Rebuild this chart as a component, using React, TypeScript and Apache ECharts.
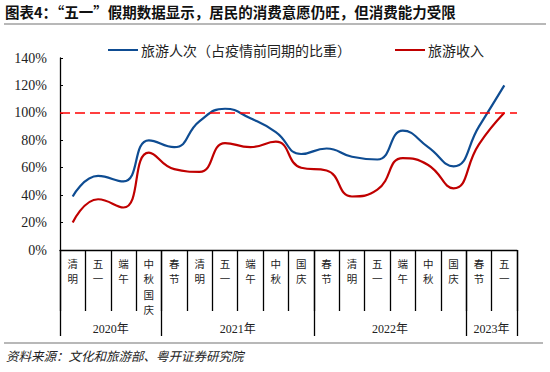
import React, { useEffect, useRef } from "react";
import * as echarts from "echarts";

const categories = [
  "清明", "五一", "端午", "中秋国庆",
  "春节", "清明", "五一", "端午", "中秋", "国庆",
  "春节", "清明", "五一", "端午", "中秋", "国庆",
  "春节", "五一",
];
const yearLabels = ["2020年", "2021年", "2022年", "2023年"];
const yearStarts = [0, 4, 10, 16];
const yearCounts = [4, 6, 6, 2];

const touristShare = [39, 54, 50, 80, 75, 94, 103, 96, 86, 70, 74, 68, 66, 87, 75, 61, 90, 120];
const revenueShare = [20, 37, 31, 71, 59, 57, 78, 75, 79, 60, 58, 39, 44, 67, 62, 45, 77, 100];
const referenceLevel = 100;

const seriesNames = ["旅游人次（占疫情前同期的比重）", "旅游收入"];
const titleText = "图表4：“五一”假期数据显示，居民的消费意愿仍旺，但消费能力受限";
const sourceText = "资料来源：文化和旅游部、粤开证券研究院";

const SERIF = '"Liberation Serif", "Noto Sans CJK SC", serif';
const CJK = '"Noto Sans CJK SC", "Liberation Serif", sans-serif';

export default function App() {
  const ref = useRef<HTMLDivElement>(null);
  useEffect(() => {
    document.body.style.margin = "0";
    if (!ref.current) return;
    const chart = echarts.init(ref.current, null, { renderer: "svg" });

    const yearCenterMap: Record<number, string> = {};
    yearStarts.forEach((s, i) => {
      yearCenterMap[s + yearCounts[i] / 2] = yearLabels[i];
    });

    const option: any = {
      animation: false,
      backgroundColor: "#fff",
      grid: { left: 60, right: 33, top: 58, bottom: 122 },
      legend: {
        left: 103,
        top: 38,
        itemWidth: 30,
        itemHeight: 2,
        itemGap: 44,
        icon: "rect",
        textStyle: { fontFamily: CJK, fontSize: 14, color: "#222", padding: [0, 0, 0, -2] },
        data: seriesNames,
      },
      xAxis: [
        {
          type: "category",
          data: categories,
          boundaryGap: true,
          axisLine: { show: true, lineStyle: { color: "#000", width: 1.3 } },
          axisTick: { show: true, interval: 0, length: 61, lineStyle: { color: "#000", width: 1.3 } },
          axisLabel: {
            interval: 0,
            margin: 6,
            fontFamily: CJK,
            fontSize: 10.5,
            lineHeight: 15.3,
            color: "#222",
            formatter: (v: string) => v.split("").join("\n"),
          },
          splitLine: { show: false },
        },
        {
          type: "category",
          data: categories,
          boundaryGap: true,
          position: "bottom",
          axisLine: { show: false },
          axisTick: {
            show: true,
            interval: (i: number) => yearStarts.includes(i),
            length: 86,
            lineStyle: { color: "#000", width: 1.3 },
          },
          axisLabel: { show: false },
          splitLine: { show: false },
        },
        {
          type: "value",
          min: 0,
          max: categories.length,
          interval: 1,
          position: "bottom",
          axisLine: { show: false },
          axisTick: { show: false },
          splitLine: { show: false },
          axisLabel: {
            margin: 73,
            fontFamily: SERIF,
            fontSize: 12,
            color: "#222",
            showMinLabel: true,
            showMaxLabel: true,
            formatter: (v: number) => yearCenterMap[v] || "",
          },
        },
      ],
      yAxis: {
        type: "value",
        min: 0,
        max: 140,
        interval: 20,
        axisLine: { show: true, lineStyle: { color: "#000", width: 1.3 } },
        axisTick: { show: true, inside: true, length: 3, lineStyle: { color: "#000" } },
        splitLine: { show: false },
        axisLabel: {
          margin: 13,
          fontFamily: SERIF,
          fontSize: 14,
          color: "#222",
          formatter: "{value}%",
        },
      },
      series: [
        {
          name: seriesNames[0],
          type: "line",
          data: touristShare,
          smooth: true,
          symbol: "none",
          lineStyle: { color: "#0E4C92", width: 2.2 },
          itemStyle: { color: "#0E4C92" },
          z: 3,
        },
        {
          name: seriesNames[1],
          type: "line",
          data: revenueShare,
          smooth: true,
          symbol: "none",
          lineStyle: { color: "#C00000", width: 2.2 },
          itemStyle: { color: "#C00000" },
          z: 3,
          markLine: {
            silent: true,
            symbol: "none",
            label: { show: false },
            lineStyle: { color: "#FF0000", type: [10, 5], width: 1.6 },
            data: [{ yAxis: referenceLevel }],
          },
        },
      ],
      graphic: [
        {
          type: "text",
          left: 5,
          top: 4,
          style: {
            text: titleText,
            fontFamily: CJK,
            fontWeight: "bold",
            fontSize: 14.5,
            fill: "#111",
          },
        },
        {
          type: "line",
          shape: { x1: 4, y1: 24, x2: 546, y2: 24 },
          style: { stroke: "#A0A0A0", lineWidth: 1.5 },
        },
        {
          type: "line",
          shape: { x1: 4, y1: 343, x2: 543, y2: 343 },
          style: { stroke: "#A0A0A0", lineWidth: 1.5 },
        },
        {
          type: "text",
          left: 6,
          top: 349,
          style: {
            text: sourceText,
            fontFamily: CJK,
            fontStyle: "italic",
            fontSize: 12.5,
            fill: "#222",
          },
        },
      ],
    };
    chart.setOption(option);
    return () => chart.dispose();
  }, []);
  return <div ref={ref} style={{ width: 550, height: 372 }} />;
}
